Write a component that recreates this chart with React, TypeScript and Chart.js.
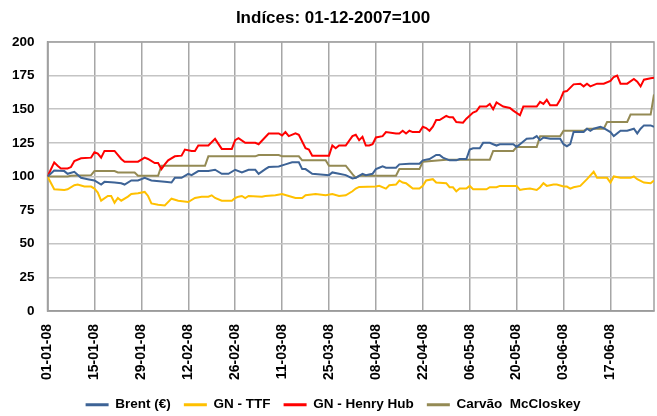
import { useEffect, useRef } from "react"
import { Chart, registerables } from "chart.js"

Chart.register(...registerables)

// eixo X: dias desde 01-01-2008, uma etiqueta a cada 14 dias
const tickLabels = [
  "01-01-08", "15-01-08", "29-01-08", "12-02-08", "26-02-08", "11-03-08", "25-03-08",
  "08-04-08", "22-04-08", "06-05-08", "20-05-08", "03-06-08", "17-06-08",
]
const tickStep = 14
const lastDay = 181

const seriesNames = ["Brent (€)", "GN - TTF", "GN - Henry Hub", "Carvão  McCloskey"]

// [dia, índice]
const brent: [number, number][] = [
  [0, 100], [2, 104.5], [5, 104], [6, 102], [8, 103.5], [10, 99], [12, 98], [14, 97], [16, 94], [17, 96],
  [20, 95.5], [22, 95], [23, 94], [25, 97], [27, 97], [29, 99], [31, 97], [35, 96], [37, 95.5], [38, 99],
  [40, 99], [42, 102], [43, 101], [45, 104], [48, 104], [50, 105], [52, 102], [54, 102], [56, 105], [58, 103],
  [60, 105], [62, 105], [63, 102], [65, 105.5], [66, 107], [69, 107.5], [71, 109], [73, 110.5], [75, 110.5],
  [76, 105.5], [77, 105.5], [79, 102], [84, 101], [85, 103], [87, 102], [89, 101], [91, 98.5], [92, 99],
  [93, 100.5], [94, 102], [95, 101], [97, 102], [98, 105.5], [99, 106.5], [100, 107.5], [101, 106.5],
  [104, 106.5], [105, 109], [108, 109.5], [111, 109.5], [112, 112], [114, 113], [116, 116], [117, 116],
  [118, 114], [120, 112], [122, 112], [123, 113], [125, 113], [126, 120], [127, 121], [129, 121], [130, 125],
  [132, 125], [133, 124], [134, 123], [135, 124], [138, 124], [139, 124], [140, 122], [141, 124], [143, 128],
  [145, 128.5], [146, 130], [147, 127], [148, 129], [150, 128], [153, 128], [154, 124], [155, 122.5],
  [156, 124], [157, 133], [160, 133], [161, 135.5], [162, 134], [163, 135.5], [165, 137], [166, 136],
  [168, 133], [169, 130], [171, 134], [173, 134], [175, 135.5], [176, 132], [177, 135.5], [178, 138],
  [180, 138], [181, 137],
]

const ttf: [number, number][] = [
  [0, 100], [2, 90.5], [5, 90], [6, 90.5], [8, 93.5], [9, 94], [11, 92.5], [13, 92.5], [14, 91], [15, 88],
  [16, 82], [18, 85.5], [19, 85.5], [20, 80.5], [21, 84], [22, 82], [24, 85], [25, 87], [27, 87.5], [29, 88.5],
  [30, 85.5], [31, 80], [33, 79], [35, 78.5], [37, 83.5], [39, 82], [42, 81], [44, 84], [46, 85], [48, 85],
  [49, 86], [50, 84], [52, 82], [55, 82], [56, 84], [57, 85], [58, 85.5], [59, 84], [60, 85.5], [64, 85],
  [65, 85.5], [68, 86], [70, 87], [72, 85.5], [74, 84], [76, 84], [77, 86], [80, 87], [83, 86], [85, 87],
  [87, 85.5], [89, 86], [91, 89], [92, 91], [93, 92.25], [98, 92.5], [99, 93], [101, 91], [102, 93.5],
  [104, 94], [105, 97], [106, 95.5], [107, 95], [108, 93], [109, 91], [111, 91], [112, 93], [113, 97],
  [115, 98], [116, 95.5], [119, 95], [120, 92], [121, 92], [122, 89], [123, 91], [125, 91], [126, 93],
  [127, 90.5], [131, 90.5], [132, 92], [134, 92], [135, 93], [140, 93], [141, 90], [142, 90.5], [144, 91],
  [146, 90], [147, 92], [148, 95], [149, 93], [151, 94], [152, 94], [154, 92.5], [155, 92.5], [156, 91],
  [157, 92], [159, 93], [161, 98], [163, 103.5], [164, 99], [167, 99], [168, 95.5], [169, 100], [171, 99],
  [174, 99], [175, 100], [176, 98], [178, 95.5], [180, 95], [181, 97],
]

const henryHub: [number, number][] = [
  [0, 100], [2, 110.5], [3, 108], [4, 106], [6, 106], [7, 107], [8, 111.5], [10, 113.5], [13, 114], [14, 118],
  [15, 117], [16, 114], [17, 119], [20, 119], [22, 113], [23, 111], [27, 111], [29, 114], [30, 113], [32, 110],
  [33, 110], [34, 105.5], [35, 109], [36, 112], [38, 115], [40, 115.5], [41, 120], [43, 119], [44, 119],
  [45, 123], [48, 123], [50, 128], [52, 120.5], [55, 120.5], [56, 127], [57, 128.5], [59, 125], [62, 125],
  [63, 124], [66, 132], [69, 132], [70, 130.5], [71, 133], [72, 130], [74, 132], [75, 131], [77, 121],
  [78, 120], [79, 115.5], [84, 115.5], [85, 123], [86, 121], [87, 123], [89, 123], [91, 130], [92, 131],
  [93, 127], [94, 129.5], [95, 123], [96, 123], [97, 124], [98, 129], [100, 130], [101, 133], [104, 132],
  [105, 132], [106, 134], [107, 132], [108, 134], [109, 133], [111, 133], [112, 137], [113, 136], [114, 134],
  [115, 137], [116, 142], [117, 142], [119, 145], [120, 144], [121, 144], [122, 140.5], [124, 140], [125, 143],
  [127, 147.5], [128, 148.5], [129, 152], [131, 152], [132, 154], [133, 150], [134, 155], [136, 152],
  [138, 151], [139, 149], [141, 145.5], [142, 152], [146, 152], [147, 155.5], [148, 154], [149, 157],
  [150, 153], [152, 153], [153, 157], [154, 163], [155, 163.5], [157, 168.5], [159, 169], [160, 167],
  [161, 169], [162, 167], [164, 169], [166, 169], [168, 171], [169, 174], [170, 175], [171, 169], [173, 169],
  [175, 172.5], [176, 170.5], [177, 167], [178, 172], [180, 173], [181, 173.5],
]

const carvao: [number, number][] = [
  [0, 100], [6, 100], [7, 100.5], [13, 101], [14, 104], [20, 104], [21, 103], [26, 103], [27, 100.5],
  [33, 100.5], [34, 108], [47, 108], [48, 115], [62, 115], [63, 116], [69, 116], [70, 115], [75, 115],
  [76, 112], [83, 112], [84, 108], [89, 108], [91, 101.75], [92, 99], [93, 100.5], [104, 100.5], [105, 105.5],
  [111, 105.5], [112, 111], [119, 112.5], [132, 112.5], [133, 119], [139, 119], [140, 122], [146, 122],
  [147, 130], [153, 130], [154, 134], [160, 134], [161, 135.5], [166, 135.5], [167, 140.5], [173, 140.5],
  [174, 146], [180, 146], [181, 161],
]

const seriesData = [brent, ttf, henryHub, carvao]
const seriesColors = ["#3D6396", "#FFC000", "#FF0000", "#948A54"]

const FONT = "Arial, 'Liberation Sans', sans-serif"

const plotBorder = {
  id: "plotBorder",
  beforeDatasetsDraw(chart: any) {
    const { ctx, chartArea: a } = chart
    ctx.save()
    ctx.strokeStyle = "#a0a0a0"
    ctx.lineWidth = 1.5
    ctx.strokeRect(a.left, a.top, a.right - a.left, a.bottom - a.top)
    ctx.restore()
  },
}

export default function App() {
  const chartRef = useRef<HTMLCanvasElement>(null)
  const chartInstance = useRef<Chart | null>(null)

  useEffect(() => {
    if (!chartRef.current) return
    if (chartInstance.current) chartInstance.current.destroy()

    const ctx = chartRef.current.getContext("2d")
    if (!ctx) return

    chartInstance.current = new Chart(ctx, {
      type: "line",
      data: {
        datasets: seriesNames.map((name, i) => ({
          label: name,
          data: seriesData[i].map(([x, y]) => ({ x, y })),
          borderColor: seriesColors[i],
          backgroundColor: seriesColors[i],
          borderWidth: 2,
          pointRadius: 0,
          tension: 0,
          fill: false,
        })),
      },
      options: {
        animation: false,
        responsive: true,
        maintainAspectRatio: false,
        layout: { padding: { left: 12, right: 3, top: 0, bottom: -5.5 } },
        scales: {
          x: {
            type: "linear",
            min: 0,
            max: lastDay,
            afterBuildTicks: (axis: any) => {
              axis.ticks = tickLabels.map((_, i) => ({ value: i * tickStep }))
            },
            // o Chart.js reserva o padding dos dois lados; só queremos o de cima
            afterFit: (axis: any) => {
              axis.height -= 13
            },
            ticks: {
              autoSkip: false,
              minRotation: 90,
              maxRotation: 90,
              padding: 13,
              color: "#000",
              font: { family: FONT, size: 14, weight: "bold" },
              callback: (v: any) => tickLabels[Math.round(Number(v) / tickStep)],
            },
            grid: { color: "#a6a6a6", lineWidth: 1.5, drawTicks: false },
            border: { color: "#8c8c8c", width: 1.5 },
          },
          y: {
            min: 0,
            max: 200,
            afterFit: (axis: any) => {
              axis.width -= 13
            },
            ticks: {
              stepSize: 25,
              padding: 13,
              color: "#000",
              font: { family: FONT, size: 13.5, weight: "bold" },
            },
            grid: { color: "#c4c4c4", lineWidth: 1.5, drawTicks: false },
            border: { color: "#8c8c8c", width: 1.5 },
          },
        },
        plugins: {
          title: {
            display: true,
            text: "Indíces: 01-12-2007=100",
            color: "#000",
            font: { family: FONT, size: 17, weight: "bold" },
            padding: { top: 8, bottom: 13.6 },
          },
          legend: {
            position: "bottom",
            title: { display: true, text: "", padding: { top: 4, bottom: 0 }, font: { size: 1, lineHeight: 1 } },
            labels: {
              boxWidth: 23,
              boxHeight: 3,
              padding: 13,
              color: "#000",
              font: { family: FONT, size: 13.5, weight: "bold" },
              generateLabels: (chart: any) =>
                Chart.defaults.plugins.legend.labels
                  .generateLabels(chart)
                  .map((item: any) => ({ ...item, lineWidth: 0 })),
            },
          },
          tooltip: { enabled: false },
        },
      } as any,
      plugins: [plotBorder],
    })

    return () => {
      if (chartInstance.current) {
        chartInstance.current.destroy()
        chartInstance.current = null
      }
    }
  }, [])

  return (
    <div style={{ position: "absolute", left: 0, top: 0, width: 657, height: 416, background: "#fff" }}>
      <canvas ref={chartRef} />
    </div>
  )
}
